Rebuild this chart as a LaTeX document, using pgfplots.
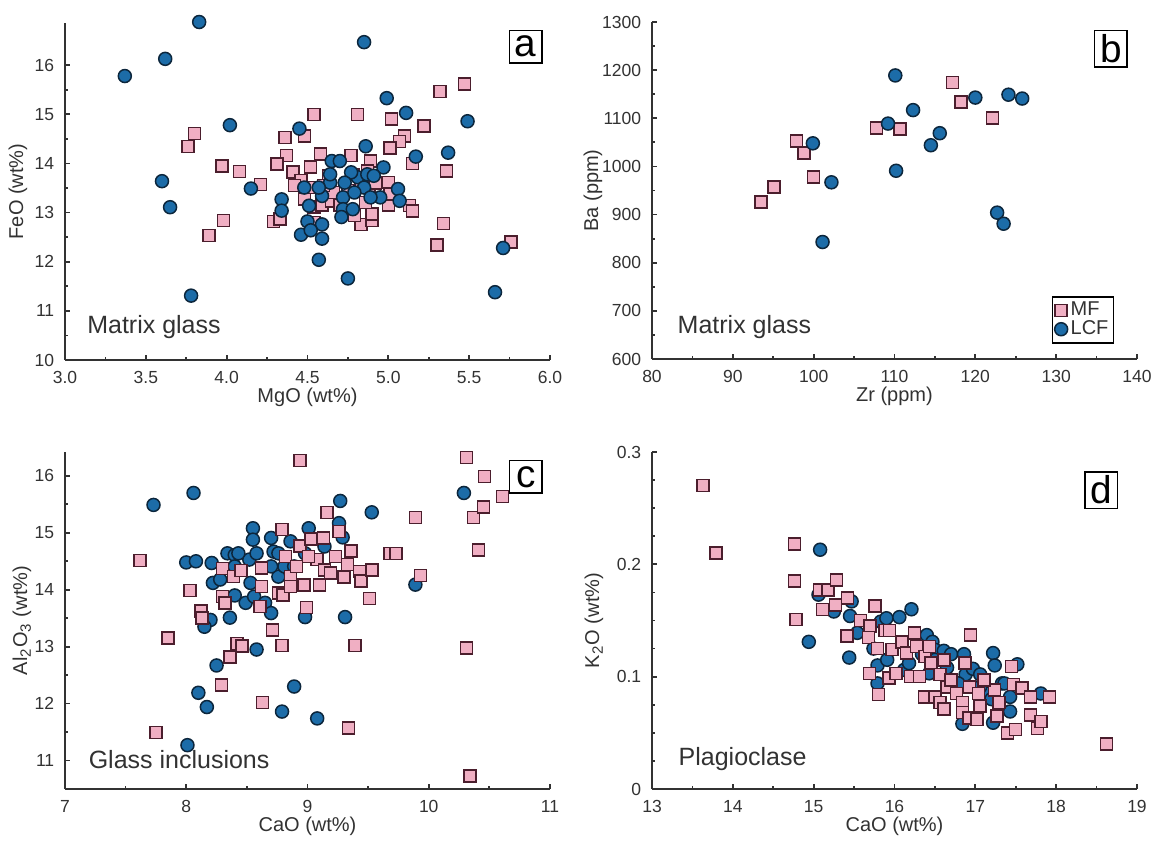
\documentclass[border=0pt]{standalone}
\usepackage{fontspec}
\setmainfont{Liberation Sans}
\usepackage{pgfplots}
\pgfplotsset{compat=1.18}

\definecolor{mfpink}{RGB}{240,175,195}
\definecolor{mfedge}{RGB}{75,30,45}
\definecolor{lcfblue}{RGB}{28,108,168}
\definecolor{lcfedge}{RGB}{12,38,60}
\definecolor{axgray}{RGB}{50,50,50}

\pgfplotsset{
  panel/.style={
    scale only axis, width=194pt, height=134.8pt,
    axis x line*=bottom, axis y line*=left,
    axis line style={axgray, line width=0.8pt},
    tick align=inside, major tick length=2pt, minor tick length=1.2pt,
    every tick/.style={axgray, line width=0.7pt},
    tick label style={font=\fontsize{7}{8}\selectfont, text=axgray},
    xticklabel style={yshift=-1pt},
    yticklabel style={xshift=-0.8pt},
    /pgf/number format/set thousands separator={},
    label style={font=\fontsize{8}{9.6}\selectfont, text=axgray, inner sep=0pt},
    xlabel style={at={(axis description cs:0.5,0)}, anchor=north, yshift=-11pt},
    /pgf/number format/assume math mode=true,
    clip=false,
  },
  ylab/.style={ylabel style={at={(axis description cs:0,0.5)}, anchor=center, yshift=#1}},
  mf/.style={only marks, mark=square*, mark size=2.4pt,
    mark options={fill=mfpink, draw=mfedge, line width=0.6pt}},
  lcf/.style={only marks, mark=*, mark size=2.6pt,
    mark options={fill=lcfblue, draw=lcfedge, line width=0.6pt}},
}
\tikzset{
  letter/.style={draw=black, line width=0.6pt, inner sep=1.6pt, minimum size=13pt, font=\fontsize{15.5}{15.5}\selectfont},
  note/.style={anchor=base west, inner sep=0pt, font=\fontsize{10}{12}\selectfont, text=axgray},
}

\begin{document}
\begin{tikzpicture}
\path[use as bounding box] (0,0) rectangle (461.2pt,337.2pt);

% a: matrix glass, MgO vs FeO
\begin{axis}[panel, at={(26pt,193.2pt)},
  xmin=3, xmax=6, ymin=10, ymax=16.86,
  xtick={3,3.5,...,6}, ytick={10,11,...,16},
  minor x tick num=1, minor y tick num=1,
  xticklabel style={/pgf/number format/fixed, /pgf/number format/fixed zerofill, /pgf/number format/precision=1},
  xlabel={MgO (wt\%)}, ylabel={FeO (wt\%)}, ylab=18.8pt]
\addplot[mf] coordinates {
(5.47,15.62) (5.32,15.47) (4.54,15.0) (4.81,15.0) (5.02,14.91) (5.22,14.76) (5.10,14.56) (5.07,14.45)
(5.01,14.32) (3.80,14.61) (3.76,14.35) (4.36,14.53) (4.48,14.56) (4.37,14.16) (4.58,14.19) (3.97,13.95)
(4.08,13.84) (4.31,13.99) (4.52,13.93) (4.41,13.83) (4.21,13.57) (5.15,14.0) (5.36,13.85) (4.89,14.05)
(4.77,14.16) (5.00,13.61) (5.13,13.14) (5.15,13.03) (5.00,13.16) (5.01,13.38) (5.34,12.78) (5.30,12.34)
(5.76,12.40) (3.98,12.84) (3.89,12.53) (4.29,12.82) (4.33,12.87) (4.54,12.80) (4.83,12.76) (4.90,12.84)
(4.90,12.97) (4.79,12.94) (4.86,13.21) (4.54,13.11) (4.59,13.16) (4.48,13.28) (4.65,13.24) (4.75,13.45)
(4.46,13.65) (4.63,13.75) (4.78,13.78) (4.88,13.51) (4.66,13.41) (4.52,13.51) (4.87,13.85) (4.83,13.61)
(4.42,13.55) (4.70,13.15) (4.92,13.60) (4.60,13.55)
};
\addplot[lcf] coordinates {
(3.83,16.88) (3.37,15.78) (3.62,16.13) (4.85,16.47) (4.99,15.33) (5.11,15.03) (5.49,14.86) (4.02,14.78)
(4.45,14.71) (4.86,14.35) (5.37,14.22) (5.17,14.14) (3.60,13.64) (3.65,13.11) (4.15,13.49) (4.34,13.27)
(4.34,13.04) (3.78,11.31) (4.57,12.04) (4.75,11.66) (5.66,11.38) (5.71,12.28) (4.59,12.47) (4.46,12.55)
(4.59,12.76) (4.97,13.92) (4.95,13.31) (5.06,13.48) (5.07,13.24) (4.65,14.05) (4.70,14.05) (4.48,13.51)
(4.51,13.14) (4.59,13.34) (4.64,13.61) (4.72,13.31) (4.72,13.07) (4.78,13.07) (4.81,13.72) (4.85,13.51)
(4.77,13.82) (4.87,13.78) (4.91,13.75) (4.50,12.82) (4.52,12.64) (4.71,12.91) (4.64,13.78) (4.57,13.51)
(4.89,13.31) (4.79,13.41) (4.73,13.61)
};
\node[note] at (rel axis cs:0.045,0.08) {Matrix glass};
\node[letter] at (rel axis cs:0.95,0.93) {a};
\end{axis}

% b: matrix glass, Zr vs Ba
\begin{axis}[panel, at={(260.8pt,193.6pt)},
  xmin=80, xmax=140, ymin=600, ymax=1300,
  xtick={80,90,...,140}, ytick={600,700,...,1300},
  minor x tick num=1, minor y tick num=1,
  xlabel={Zr (ppm)}, ylabel={Ba (ppm)}, ylab=23.6pt,
  legend style={at={(0.953,0.045)}, anchor=south east, draw=black, line width=0.6pt,
    font=\fontsize{8}{8}\selectfont, text=axgray, inner sep=0.8pt, row sep=-2pt,
    nodes={inner sep=1.2pt}},
  legend cell align=left]
\addplot[mf] coordinates {
(93.5,926) (95.1,957) (97.9,1053) (98.8,1028) (100.0,978) (107.8,1080) (110.7,1078) (117.2,1174)
(118.2,1134) (122.1,1101)
};
\addlegendentry{MF}
\addplot[lcf] coordinates {
(110.1,1189) (99.9,1048) (102.2,967) (101.1,843) (109.2,1089) (112.3,1117) (110.2,991) (114.5,1044)
(115.6,1069) (120.0,1143) (124.1,1149) (125.8,1141) (122.7,904) (123.5,881)
};
\addlegendentry{LCF}
\node[note] at (rel axis cs:0.052,0.077) {Matrix glass};
\node[letter] at (rel axis cs:0.946,0.92) {b};
\end{axis}

% c: glass inclusions, CaO vs Al2O3
\begin{axis}[panel, at={(26pt,21.6pt)},
  xmin=7, xmax=11, ymin=10.5, ymax=16.42,
  xtick={7,8,...,11}, ytick={11,12,...,16},
  minor x tick num=1, minor y tick num=1,
  xlabel={CaO (wt\%)}, ylabel={Al\textsubscript{2}O\textsubscript{3} (wt\%)}, ylab=17.2pt]
\addplot[lcf] coordinates {
(7.73,15.49) (8.06,15.70) (8.00,14.48) (8.08,14.50) (8.21,14.47) (8.22,14.12) (8.20,13.47) (8.15,13.35)
(8.10,12.19) (8.17,11.94) (8.25,12.67) (8.01,11.27) (8.36,13.51) (8.40,13.90) (8.34,14.64) (8.40,14.61)
(8.40,14.41) (8.49,13.77) (8.55,15.08) (8.55,14.88) (8.52,14.53) (8.53,14.12) (8.56,13.88) (8.58,12.95)
(8.65,13.77) (8.70,13.59) (8.70,14.91) (8.72,14.67) (8.58,14.64) (8.76,14.23) (8.70,14.41) (8.81,14.41)
(8.86,14.85) (8.89,14.41) (8.98,14.64) (9.01,15.08) (8.98,13.52) (8.79,11.86) (8.89,12.30) (9.08,11.74)
(9.27,15.56) (9.26,15.17) (9.29,14.92) (9.14,14.76) (9.31,13.52) (9.53,15.36) (9.89,14.09) (10.29,15.70)
(8.76,14.64) (8.28,14.18) (8.43,14.64)
};
\addplot[mf] coordinates {
(7.62,14.51) (8.03,13.99) (8.12,13.63) (8.13,13.50) (7.85,13.15) (7.75,11.49) (8.30,14.37) (8.30,13.88)
(8.32,13.77) (8.39,14.23) (8.42,13.06) (8.46,13.01) (8.36,12.82) (8.29,12.33) (8.63,12.02) (8.71,13.29)
(8.79,13.02) (8.62,14.06) (8.61,13.71) (8.45,14.34) (8.62,14.38) (8.76,13.94) (8.80,13.91) (8.79,15.06)
(8.82,14.58) (8.94,14.77) (8.94,16.27) (8.86,14.23) (8.86,14.06) (8.97,14.08) (8.99,13.69) (9.03,14.89)
(9.08,14.53) (9.10,14.08) (9.13,14.91) (9.14,14.35) (9.16,15.36) (9.19,14.29) (9.23,14.58) (9.26,15.02)
(9.30,14.22) (9.33,14.44) (9.36,14.68) (9.43,14.32) (9.44,14.15) (9.53,14.35) (9.51,13.85) (9.39,13.02)
(9.34,11.57) (9.68,14.64) (9.73,14.64) (9.89,15.27) (9.93,14.25) (10.31,16.32) (10.46,15.99) (10.37,15.27)
(10.45,15.45) (10.41,14.70) (10.61,15.64) (10.31,12.98) (10.34,10.73) (8.91,14.41) (9.01,14.58)
};
\node[note] at (rel axis cs:0.048,0.062) {Glass inclusions};
\node[letter] at (rel axis cs:0.95,0.926) {c};
\end{axis}

% d: plagioclase, CaO vs K2O
\begin{axis}[panel, at={(260.8pt,21.6pt)},
  xmin=13, xmax=19, ymin=0, ymax=0.3,
  xtick={13,14,...,19}, ytick={0,0.1,0.2,0.3},
  minor x tick num=1, minor y tick num=3,
  xlabel={CaO (wt\%)}, ylabel={K\textsubscript{2}O (wt\%)}, ylab=23.2pt]
\addplot[lcf] coordinates {
(15.08,0.213) (14.94,0.131) (15.44,0.117) (15.06,0.173) (15.25,0.158) (15.45,0.154) (15.47,0.167) (15.54,0.139)
(15.74,0.125) (15.79,0.110) (15.79,0.094) (15.83,0.149) (15.90,0.152) (15.91,0.115) (16.06,0.153) (16.21,0.160)
(16.12,0.106) (16.18,0.112) (16.40,0.137) (16.47,0.131) (16.50,0.124) (16.61,0.123) (16.70,0.120) (16.86,0.120)
(16.65,0.108) (16.88,0.102) (16.97,0.107) (17.06,0.102) (17.22,0.121) (17.24,0.110) (17.33,0.094) (17.15,0.085)
(17.20,0.080) (17.31,0.071) (17.43,0.082) (17.43,0.069) (17.52,0.111) (17.81,0.085) (16.84,0.058) (17.22,0.059)
(17.36,0.094) (16.79,0.094) (16.50,0.115) (16.34,0.120) (16.43,0.103) (17.06,0.091)
};
\addplot[mf] coordinates {
(13.63,0.270) (13.79,0.210) (14.76,0.218) (14.76,0.185) (14.78,0.151) (15.07,0.177) (15.18,0.177) (15.28,0.186)
(15.11,0.160) (15.27,0.164) (15.42,0.170) (15.41,0.136) (15.58,0.150) (15.70,0.145) (15.76,0.163) (15.68,0.135)
(15.79,0.125) (15.69,0.103) (15.80,0.084) (15.88,0.141) (15.94,0.141) (15.93,0.099) (16.02,0.103) (15.97,0.124)
(16.09,0.131) (16.15,0.121) (16.25,0.139) (16.27,0.127) (16.20,0.100) (16.31,0.100) (16.38,0.118) (16.37,0.082)
(16.45,0.112) (16.50,0.082) (16.56,0.077) (16.56,0.102) (16.61,0.115) (16.65,0.091) (16.70,0.097) (16.77,0.085)
(16.84,0.077) (16.84,0.068) (16.87,0.112) (16.94,0.137) (16.93,0.091) (16.92,0.063) (17.02,0.062) (17.04,0.085)
(17.06,0.074) (17.24,0.088) (17.29,0.077) (17.27,0.065) (17.45,0.109) (17.47,0.093) (17.40,0.050) (17.50,0.053)
(17.58,0.090) (17.68,0.082) (17.68,0.066) (17.77,0.054) (17.81,0.060) (17.92,0.082) (18.62,0.040) (17.11,0.097)
(16.43,0.127) (16.61,0.071)
};
\node[note] at (rel axis cs:0.054,0.071) {Plagioclase};
\node[letter] at (rel axis cs:0.926,0.887) {d};
\end{axis}
\end{tikzpicture}
\end{document}
